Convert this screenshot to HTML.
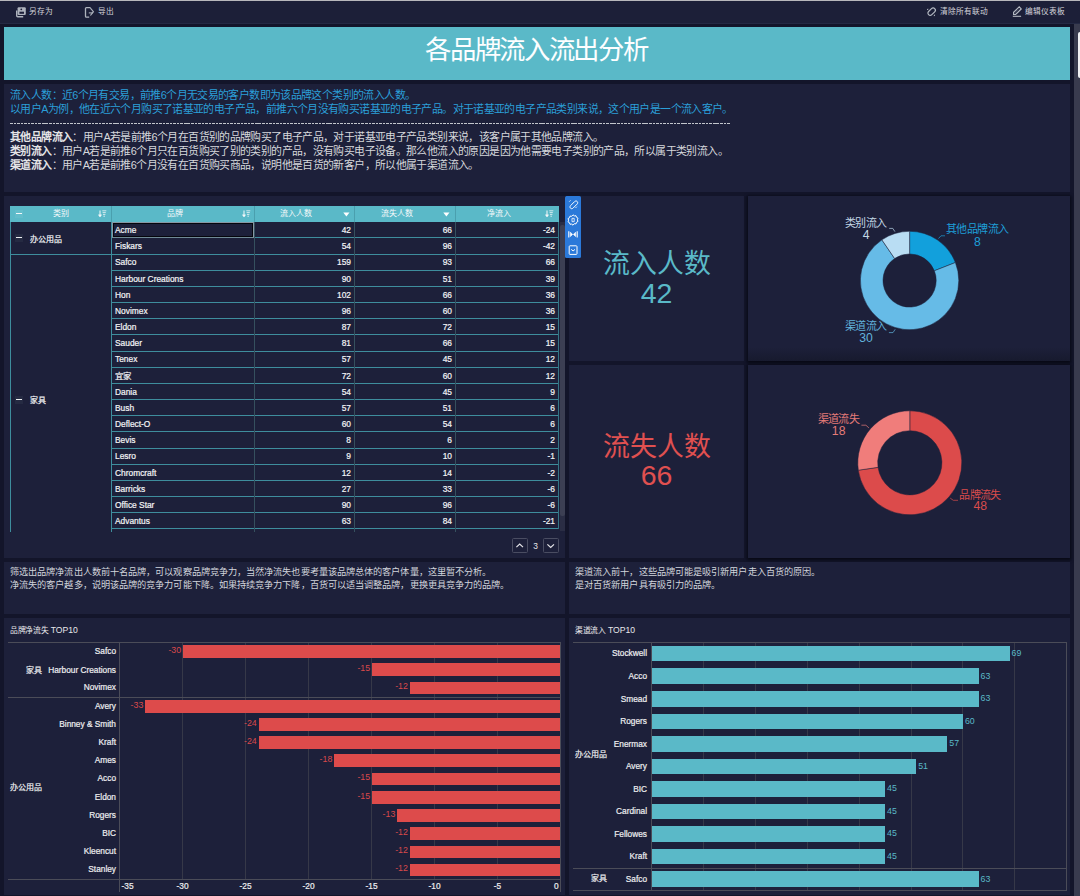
<!DOCTYPE html><html lang="zh-CN"><head><meta charset="utf-8"><style>
*{margin:0;padding:0;box-sizing:border-box}
html,body{width:1080px;height:896px;overflow:hidden}
body{background:#13152a;font-family:"Liberation Sans",sans-serif;color:#e6e6e6;position:relative}
.a{position:absolute}
.t{position:absolute;white-space:nowrap}
.p{position:absolute;background:#1d203a}
.tb{position:absolute;top:7.2px;font-size:7.7px;color:#d4d4da;line-height:10px;white-space:nowrap}
.dl{position:absolute;left:6px;font-size:10.87px;letter-spacing:-0.62px;line-height:14px;white-space:nowrap}
.blue{color:#2b9fd8}
.gray{color:#d6d8dc}
.gray b{font-weight:bold;color:#e4e4e6}
.hd{position:absolute;top:206px;height:15.5px;background:#5ab9c8;color:#f4f8fa;font-size:8px;line-height:15.5px;text-align:center}
.cell{position:absolute;font-size:8.4px;color:#f4f5f7;-webkit-text-stroke:0.2px #f4f5f7;line-height:10px;white-space:nowrap}
.hl{position:absolute;height:1px;background:#3e8d9d}
.vl{position:absolute;width:1px;background:#3e8d9d}
.lbl{position:absolute;font-size:8.3px;color:#eeeef0;-webkit-text-stroke:0.2px currentColor;line-height:10px;white-space:nowrap}
</style></head><body>
<div class="a" style="left:0;top:0;width:1080px;height:1px;background:#b8b8bc"></div>
<div class="a" style="left:0;top:1px;width:1080px;height:22px;background:#1c1f38"></div>
<div class="a" style="left:0;top:23px;width:1080px;height:1px;background:#242943"></div>
<svg class="a" style="left:12px;top:3px" width="20" height="18" viewBox="0 0 20 18">
<rect x="5.6" y="4.2" width="8.2" height="7.8" rx="1.1" fill="#aeb3bd"/>
<rect x="7.4" y="8.7" width="4.6" height="2.1" fill="#1c1f38"/><circle cx="9.3" cy="6.3" r="0.9" fill="#1c1f38"/>
<path d="M4.7 7.5v5.2c0 .7.4 1.1 1.1 1.1h5.4" fill="none" stroke="#aeb3bd" stroke-width="1.4"/></svg>
<div class="tb" style="left:29px">另存为</div>
<svg class="a" style="left:82px;top:3px" width="20" height="18" viewBox="0 0 20 18" fill="none" stroke="#aeb3bd" stroke-width="1.3">
<path d="M8.6 4.6H4.4c-.5 0-.9.4-.9.9v7.8c0 .5.4.9.9.9h2.8"/><path d="M8.4 5.2l3 3.5-3 3.8" stroke-width="1.2"/><path d="M6.8 9.9h4" stroke-width="1.1"/></svg>
<div class="tb" style="left:98px">导出</div>
<svg class="a" style="left:922px;top:3px" width="20" height="18" viewBox="0 0 20 18" fill="none" stroke="#b4b9c2" stroke-width="1.2">
<path d="M6.6 11.7c-.9-.9-.9-2.3 0-3.2l2.9-2.9c.9-.9 2.3-.9 3.2 0s.9 2.3 0 3.2l-2.9 2.9c-.9.9-2.3.9-3.2 0z"/>
<path d="M5 6.5l1.3-.3M12.2 13.1l.4-1.4" stroke-width="1"/></svg>
<div class="tb" style="left:940px">清除所有联动</div>
<svg class="a" style="left:1008px;top:3px" width="20" height="18" viewBox="0 0 20 18" fill="none" stroke="#b4b9c2">
<path d="M5.6 11.5V9.3l5.6-5.4 2 2-5.6 5.6z" stroke-width="1.2"/><path d="M6.6 10.4l4-4" stroke-width="0.6" stroke="#50566a"/>
<path d="M4.8 13.3h8.3" stroke-width="1.1"/></svg>
<div class="tb" style="left:1025px">编辑仪表板</div>
<div class="a" style="left:1074px;top:24px;width:6px;height:872px;background:#393b4e"></div>
<div class="a" style="left:1078px;top:32px;width:2px;height:46px;background:#f0f0f2;border-radius:2px 0 0 2px"></div>
<div class="a" style="left:4px;top:27px;width:1066px;height:53px;background:#5ab9c8"></div>
<div class="t" style="left:4px;top:27px;width:1066px;height:53px;line-height:47px;text-align:center;font-size:26.4px;letter-spacing:-1.35px;text-indent:-1.35px;color:#fdfeff">各品牌流入流出分析</div>
<div class="p" style="left:4px;top:84px;width:1066px;height:108px"></div>
<div class="a" style="left:4px;top:84px">
<div class="dl blue" style="top:4px">流入人数：近6个月有交易，前推6个月无交易的客户数即为该品牌这个类别的流入人数。</div>
<div class="dl blue" style="top:18px">以用户A为例，他在近六个月购买了诺基亚的电子产品，前推六个月没有购买诺基亚的电子产品。对于诺基亚的电子产品类别来说，这个用户是一个流入客户。</div>
<div class="a" style="left:6px;top:38.5px;width:720px;height:1.2px;background:repeating-linear-gradient(90deg,#c2c6cc 0 2.6px,transparent 2.6px 3.55px)"></div>
<div class="dl gray" style="top:46px"><b>其他品牌流入</b>：用户A若是前推6个月在百货别的品牌购买了电子产品，对于诺基亚电子产品类别来说，该客户属于其他品牌流入。</div>
<div class="dl gray" style="top:60px"><b>类别流入</b>：用户A若是前推6个月只在百货购买了别的类别的产品，没有购买电子设备。那么他流入的原因是因为他需要电子类别的产品，所以属于类别流入。</div>
<div class="dl gray" style="top:74px"><b>渠道流入</b>：用户A若是前推6个月没有在百货购买商品，说明他是百货的新客户，所以他属于渠道流入。</div>
</div>
<div class="p" style="left:4px;top:196px;width:561px;height:362px"></div>
<div class="hd" style="left:10px;width:101.5px;padding-right:0px">类别</div>
<div class="hd" style="left:111.5px;width:142.5px;padding-right:16px">品牌</div>
<div class="hd" style="left:254px;width:100.5px;padding-right:16px">流入人数</div>
<div class="hd" style="left:354.5px;width:101.0px;padding-right:16px">流失人数</div>
<div class="hd" style="left:455.5px;width:103.0px;padding-right:16px">净流入</div>
<div class="a" style="left:111.0px;top:206px;width:1px;height:15.5px;background:#4a9fae"></div>
<div class="a" style="left:253.5px;top:206px;width:1px;height:15.5px;background:#4a9fae"></div>
<div class="a" style="left:354.0px;top:206px;width:1px;height:15.5px;background:#4a9fae"></div>
<div class="a" style="left:455.0px;top:206px;width:1px;height:15.5px;background:#4a9fae"></div>
<svg class="a" style="left:97.5px;top:210px" width="9" height="8" viewBox="0 0 9 8" fill="none" stroke="#f4f8fa">
<path d="M2 0.5v6" stroke-width="1"/><path d="M0.3 4.8L2 7l1.7-2.2z" fill="#f4f8fa" stroke-width="0.4"/>
<path d="M4.3 0.8h4M4.6 2.6h3.2M5 4.4h2.4M5.4 6.2h1.6" stroke-width="0.9" opacity="0.85"/></svg>
<svg class="a" style="left:241.5px;top:210px" width="9" height="8" viewBox="0 0 9 8" fill="none" stroke="#f4f8fa">
<path d="M2 0.5v6" stroke-width="1"/><path d="M0.3 4.8L2 7l1.7-2.2z" fill="#f4f8fa" stroke-width="0.4"/>
<path d="M4.3 0.8h4M4.6 2.6h3.2M5 4.4h2.4M5.4 6.2h1.6" stroke-width="0.9" opacity="0.85"/></svg>
<svg class="a" style="left:545px;top:210px" width="9" height="8" viewBox="0 0 9 8" fill="none" stroke="#f4f8fa">
<path d="M2 0.5v6" stroke-width="1"/><path d="M0.3 4.8L2 7l1.7-2.2z" fill="#f4f8fa" stroke-width="0.4"/>
<path d="M4.3 0.8h4M4.6 2.6h3.2M5 4.4h2.4M5.4 6.2h1.6" stroke-width="0.9" opacity="0.85"/></svg>
<svg class="a" style="left:342.5px;top:211.5px" width="7" height="5" viewBox="0 0 7 5"><path d="M0.3 0.5h6.2L3.4 4.6z" fill="#fff"/></svg>
<svg class="a" style="left:442.5px;top:211.5px" width="7" height="5" viewBox="0 0 7 5"><path d="M0.3 0.5h6.2L3.4 4.6z" fill="#fff"/></svg>
<div class="a" style="left:15px;top:210px;width:8px;height:8px;background:rgba(255,255,255,0.06)"></div>
<div class="a" style="left:16px;top:213.2px;width:6px;height:1.2px;background:#f4f8fa"></div>
<div class="cell" style="left:115px;top:225.10px">Acme</div>
<div class="cell" style="left:291.0px;width:60px;text-align:right;top:225.10px">42</div>
<div class="cell" style="left:392.0px;width:60px;text-align:right;top:225.10px">66</div>
<div class="cell" style="left:495.0px;width:60px;text-align:right;top:225.10px">-24</div>
<div class="hl" style="left:111.5px;top:237.37px;width:447.0px"></div>
<div class="cell" style="left:115px;top:241.27px">Fiskars</div>
<div class="cell" style="left:291.0px;width:60px;text-align:right;top:241.27px">54</div>
<div class="cell" style="left:392.0px;width:60px;text-align:right;top:241.27px">96</div>
<div class="cell" style="left:495.0px;width:60px;text-align:right;top:241.27px">-42</div>
<div class="hl" style="left:10px;top:253.54px;width:548.5px"></div>
<div class="cell" style="left:115px;top:257.44px">Safco</div>
<div class="cell" style="left:291.0px;width:60px;text-align:right;top:257.44px">159</div>
<div class="cell" style="left:392.0px;width:60px;text-align:right;top:257.44px">93</div>
<div class="cell" style="left:495.0px;width:60px;text-align:right;top:257.44px">66</div>
<div class="hl" style="left:111.5px;top:269.71px;width:447.0px"></div>
<div class="cell" style="left:115px;top:273.61px">Harbour Creations</div>
<div class="cell" style="left:291.0px;width:60px;text-align:right;top:273.61px">90</div>
<div class="cell" style="left:392.0px;width:60px;text-align:right;top:273.61px">51</div>
<div class="cell" style="left:495.0px;width:60px;text-align:right;top:273.61px">39</div>
<div class="hl" style="left:111.5px;top:285.88px;width:447.0px"></div>
<div class="cell" style="left:115px;top:289.78px">Hon</div>
<div class="cell" style="left:291.0px;width:60px;text-align:right;top:289.78px">102</div>
<div class="cell" style="left:392.0px;width:60px;text-align:right;top:289.78px">66</div>
<div class="cell" style="left:495.0px;width:60px;text-align:right;top:289.78px">36</div>
<div class="hl" style="left:111.5px;top:302.05px;width:447.0px"></div>
<div class="cell" style="left:115px;top:305.95px">Novimex</div>
<div class="cell" style="left:291.0px;width:60px;text-align:right;top:305.95px">96</div>
<div class="cell" style="left:392.0px;width:60px;text-align:right;top:305.95px">60</div>
<div class="cell" style="left:495.0px;width:60px;text-align:right;top:305.95px">36</div>
<div class="hl" style="left:111.5px;top:318.22px;width:447.0px"></div>
<div class="cell" style="left:115px;top:322.12px">Eldon</div>
<div class="cell" style="left:291.0px;width:60px;text-align:right;top:322.12px">87</div>
<div class="cell" style="left:392.0px;width:60px;text-align:right;top:322.12px">72</div>
<div class="cell" style="left:495.0px;width:60px;text-align:right;top:322.12px">15</div>
<div class="hl" style="left:111.5px;top:334.39px;width:447.0px"></div>
<div class="cell" style="left:115px;top:338.29px">Sauder</div>
<div class="cell" style="left:291.0px;width:60px;text-align:right;top:338.29px">81</div>
<div class="cell" style="left:392.0px;width:60px;text-align:right;top:338.29px">66</div>
<div class="cell" style="left:495.0px;width:60px;text-align:right;top:338.29px">15</div>
<div class="hl" style="left:111.5px;top:350.56px;width:447.0px"></div>
<div class="cell" style="left:115px;top:354.46px">Tenex</div>
<div class="cell" style="left:291.0px;width:60px;text-align:right;top:354.46px">57</div>
<div class="cell" style="left:392.0px;width:60px;text-align:right;top:354.46px">45</div>
<div class="cell" style="left:495.0px;width:60px;text-align:right;top:354.46px">12</div>
<div class="hl" style="left:111.5px;top:366.73px;width:447.0px"></div>
<div class="cell" style="left:115px;top:370.63px">宜家</div>
<div class="cell" style="left:291.0px;width:60px;text-align:right;top:370.63px">72</div>
<div class="cell" style="left:392.0px;width:60px;text-align:right;top:370.63px">60</div>
<div class="cell" style="left:495.0px;width:60px;text-align:right;top:370.63px">12</div>
<div class="hl" style="left:111.5px;top:382.90px;width:447.0px"></div>
<div class="cell" style="left:115px;top:386.80px">Dania</div>
<div class="cell" style="left:291.0px;width:60px;text-align:right;top:386.80px">54</div>
<div class="cell" style="left:392.0px;width:60px;text-align:right;top:386.80px">45</div>
<div class="cell" style="left:495.0px;width:60px;text-align:right;top:386.80px">9</div>
<div class="hl" style="left:111.5px;top:399.07px;width:447.0px"></div>
<div class="cell" style="left:115px;top:402.97px">Bush</div>
<div class="cell" style="left:291.0px;width:60px;text-align:right;top:402.97px">57</div>
<div class="cell" style="left:392.0px;width:60px;text-align:right;top:402.97px">51</div>
<div class="cell" style="left:495.0px;width:60px;text-align:right;top:402.97px">6</div>
<div class="hl" style="left:111.5px;top:415.24px;width:447.0px"></div>
<div class="cell" style="left:115px;top:419.14px">Deflect-O</div>
<div class="cell" style="left:291.0px;width:60px;text-align:right;top:419.14px">60</div>
<div class="cell" style="left:392.0px;width:60px;text-align:right;top:419.14px">54</div>
<div class="cell" style="left:495.0px;width:60px;text-align:right;top:419.14px">6</div>
<div class="hl" style="left:111.5px;top:431.41px;width:447.0px"></div>
<div class="cell" style="left:115px;top:435.31px">Bevis</div>
<div class="cell" style="left:291.0px;width:60px;text-align:right;top:435.31px">8</div>
<div class="cell" style="left:392.0px;width:60px;text-align:right;top:435.31px">6</div>
<div class="cell" style="left:495.0px;width:60px;text-align:right;top:435.31px">2</div>
<div class="hl" style="left:111.5px;top:447.58px;width:447.0px"></div>
<div class="cell" style="left:115px;top:451.48px">Lesro</div>
<div class="cell" style="left:291.0px;width:60px;text-align:right;top:451.48px">9</div>
<div class="cell" style="left:392.0px;width:60px;text-align:right;top:451.48px">10</div>
<div class="cell" style="left:495.0px;width:60px;text-align:right;top:451.48px">-1</div>
<div class="hl" style="left:111.5px;top:463.75px;width:447.0px"></div>
<div class="cell" style="left:115px;top:467.65px">Chromcraft</div>
<div class="cell" style="left:291.0px;width:60px;text-align:right;top:467.65px">12</div>
<div class="cell" style="left:392.0px;width:60px;text-align:right;top:467.65px">14</div>
<div class="cell" style="left:495.0px;width:60px;text-align:right;top:467.65px">-2</div>
<div class="hl" style="left:111.5px;top:479.92px;width:447.0px"></div>
<div class="cell" style="left:115px;top:483.82px">Barricks</div>
<div class="cell" style="left:291.0px;width:60px;text-align:right;top:483.82px">27</div>
<div class="cell" style="left:392.0px;width:60px;text-align:right;top:483.82px">33</div>
<div class="cell" style="left:495.0px;width:60px;text-align:right;top:483.82px">-6</div>
<div class="hl" style="left:111.5px;top:496.09px;width:447.0px"></div>
<div class="cell" style="left:115px;top:499.99px">Office Star</div>
<div class="cell" style="left:291.0px;width:60px;text-align:right;top:499.99px">90</div>
<div class="cell" style="left:392.0px;width:60px;text-align:right;top:499.99px">96</div>
<div class="cell" style="left:495.0px;width:60px;text-align:right;top:499.99px">-6</div>
<div class="hl" style="left:111.5px;top:512.26px;width:447.0px"></div>
<div class="cell" style="left:115px;top:516.16px">Advantus</div>
<div class="cell" style="left:291.0px;width:60px;text-align:right;top:516.16px">63</div>
<div class="cell" style="left:392.0px;width:60px;text-align:right;top:516.16px">84</div>
<div class="cell" style="left:495.0px;width:60px;text-align:right;top:516.16px">-21</div>
<div class="hl" style="left:111.5px;top:528.43px;width:447.0px"></div>
<div class="vl" style="left:10px;top:221.5px;height:310.0px"></div>
<div class="vl" style="left:111.0px;top:221.5px;height:310.0px;"></div>
<div class="vl" style="left:253.5px;top:221.5px;height:310.0px;background:#35505e"></div>
<div class="vl" style="left:354.0px;top:221.5px;height:310.0px;background:#35505e"></div>
<div class="vl" style="left:455.0px;top:221.5px;height:310.0px;background:#35505e"></div>
<div class="vl" style="left:558.0px;top:221.5px;height:307.4px;background:#347585"></div>
<div class="a" style="left:112px;top:222px;width:142px;height:16px;border:1px solid #8797a4;border-bottom-color:#6f8a96"></div>
<div class="a" style="left:113px;top:223px;width:140px;height:14px;border:1px solid #05060c;border-top-width:0.8px;border-left-width:0.6px"></div>
<div class="a" style="left:15px;top:234px;width:8px;height:8px;background:#252a42"></div>
<div class="a" style="left:16px;top:237.2px;width:6px;height:1.2px;background:#eef0f2"></div>
<div class="cell" style="left:30px;top:234.5px;font-size:8px">办公用品</div>
<div class="a" style="left:15px;top:395.5px;width:8px;height:8px;background:#252a42"></div>
<div class="a" style="left:16px;top:398.8px;width:6px;height:1.2px;background:#eef0f2"></div>
<div class="cell" style="left:30px;top:395.5px;font-size:8px">家具</div>
<div class="a" style="left:560px;top:222px;width:4.5px;height:309px;background:#2a2d44"></div>
<div class="a" style="left:560px;top:224.5px;width:4.5px;height:291.5px;background:#3c3f53;border-radius:2px"></div>
<div class="a" style="left:512.3px;top:538.1px;width:15.4px;height:15.4px;border:1px solid #4a4d62;border-radius:1.5px"></div>
<svg class="a" style="left:512.3px;top:538.1px" width="15.4" height="15.4" viewBox="0 0 15.4 15.4" fill="none" stroke="#e6e6ea" stroke-width="1.2"><path d="M4.4 9.1l3.3-3.1 3.3 3.1"/></svg>
<div class="t" style="left:531px;top:541px;width:9px;text-align:center;font-size:8.4px;line-height:10px;color:#e6e6ea">3</div>
<div class="a" style="left:543.4px;top:538.1px;width:15.4px;height:15.4px;border:1px solid #4a4d62;border-radius:1.5px"></div>
<svg class="a" style="left:543.4px;top:538.1px" width="15.4" height="15.4" viewBox="0 0 15.4 15.4" fill="none" stroke="#e6e6ea" stroke-width="1.2"><path d="M4.4 6.4l3.3 3.1 3.3-3.1"/></svg>
<div class="p" style="left:569px;top:196px;width:175px;height:165px"></div>
<div class="p" style="left:748px;top:196px;width:322px;height:165px;box-shadow:0 1px 3px 1px rgba(4,5,14,0.75);background:linear-gradient(180deg,#1d203a 0,#1d203a 151px,#171a2e 165px)"></div>
<div class="p" style="left:569px;top:365px;width:175px;height:193px"></div>
<div class="p" style="left:748px;top:365px;width:322px;height:193px;box-shadow:0 1px 3px 1px rgba(4,5,14,0.75)"></div>
<div class="t" style="left:569px;top:246.5px;width:175px;text-align:center;font-size:26.9px;line-height:34px;color:#5ab9c8">流入人数</div>
<div class="t" style="left:569px;top:276px;width:175px;text-align:center;font-size:28.5px;line-height:34px;color:#5ab9c8">42</div>
<div class="t" style="left:569px;top:429.5px;width:175px;text-align:center;font-size:26.9px;line-height:34px;color:#e05050">流失人数</div>
<div class="t" style="left:569px;top:458px;width:175px;text-align:center;font-size:28.5px;line-height:34px;color:#e05050">66</div>
<div class="a" style="left:565px;top:196.3px;width:16px;height:61.5px;background:#2b79d9;border-radius:1.5px"></div>
<svg class="a" style="left:565px;top:196.3px" width="16" height="62" viewBox="0 0 16 62" fill="none" stroke="#fff" stroke-width="1">
<path d="M5.6 9.6l4-4c.8-.8 2-.8 2.6-.1.7.7.7 1.9-.1 2.6l-4 4c-.8.8-2 .8-2.6.1-.7-.7-.7-1.9.1-2.6z"/><path d="M4.3 5.6l1.2-1.2M10.6 11.9l1.2-1.2" stroke-width="0.9"/>
<path d="M8 18.8l1.3 1.1 1.7-.2.5 1.6 1.5.9-.6 1.6.6 1.6-1.5.9-.5 1.6-1.7-.2L8 29.2l-1.3-1.1-1.7.2-.5-1.6-1.5-.9.6-1.6-.6-1.6 1.5-.9.5-1.6 1.7.2z"/><path d="M7 22.3h2.2v3.4H7z" stroke-width="0.8"/>
<path d="M3.8 35.2v6.4M12.2 35.2v6.4" stroke-width="1.1"/><path d="M5.4 36.2l2.2 2.2-2.2 2.2zM10.6 36.2L8.4 38.4l2.2 2.2z" fill="#fff" stroke-width="0.6"/>
<rect x="4.2" y="49.8" width="7.8" height="8.6" rx="0.8"/><path d="M6.2 53.4l1.9 1.5 1.9-1.5"/>
</svg>
<svg class="a" style="left:0;top:0" width="1080" height="896" viewBox="0 0 1080 896">
<path d="M909.60 231.30A49.2 49.2 0 0 1 955.40 262.53L934.36 270.78A26.6 26.6 0 0 0 909.60 253.90Z" fill="#12a0dc" stroke="#1d203a" stroke-width="0.5"/>
<path d="M955.40 262.53A49.2 49.2 0 1 1 881.88 239.85L894.62 258.52A26.6 26.6 0 1 0 934.36 270.78Z" fill="#66bbe7" stroke="#1d203a" stroke-width="0.5"/>
<path d="M881.88 239.85A49.2 49.2 0 0 1 909.60 231.30L909.60 253.90A26.6 26.6 0 0 0 894.62 258.52Z" fill="#b9ddf3" stroke="#1d203a" stroke-width="0.5"/>
<path d="M938.5 238.5L941 235.8H945" fill="none" stroke="#1f9fd9" stroke-width="0.7"/>
<path d="M889.2 228.4H892.8L894.9 231.6" fill="none" stroke="#b9d4e6" stroke-width="0.7"/>
<path d="M888.9 332.6H893L895.2 329.3" fill="none" stroke="#62b3dc" stroke-width="0.7"/>
<path d="M909.80 410.80A52.0 52.0 0 1 1 858.33 470.20L878.03 467.37A32.1 32.1 0 1 0 909.80 430.70Z" fill="#dc4b4b" stroke="#1d203a" stroke-width="0.5"/>
<path d="M858.33 470.20A52.0 52.0 0 0 1 909.80 410.80L909.80 430.70A32.1 32.1 0 0 0 878.03 467.37Z" fill="#f07d7b" stroke="#1d203a" stroke-width="0.5"/>
<path d="M861.4 425.2H865.9L868.9 427.9" fill="none" stroke="#e57b78" stroke-width="0.7"/>
<path d="M950.2 498.1L953.3 500.3H958" fill="none" stroke="#d94c4c" stroke-width="0.7"/>
</svg>
<div class="t" style="left:927.5px;top:223.30px;width:100px;text-align:center;font-size:11px;letter-spacing:-0.6px;text-indent:-0.6px;line-height:12px;color:#1e9fd8">其他品牌流入</div>
<div class="t" style="left:927.5px;top:235.90px;width:100px;text-align:center;font-size:12.2px;line-height:12px;color:#1e9fd8">8</div>
<div class="t" style="left:816.1500000000001px;top:216.90px;width:100px;text-align:center;font-size:11px;letter-spacing:-0.6px;text-indent:-0.6px;line-height:12px;color:#c4d8e6">类别流入</div>
<div class="t" style="left:816.1500000000001px;top:229.00px;width:100px;text-align:center;font-size:12.2px;line-height:12px;color:#c4d8e6">4</div>
<div class="t" style="left:816.0px;top:319.90px;width:100px;text-align:center;font-size:11px;letter-spacing:-0.6px;text-indent:-0.6px;line-height:12px;color:#62b3dc">渠道流入</div>
<div class="t" style="left:816.0px;top:332.10px;width:100px;text-align:center;font-size:12.2px;line-height:12px;color:#62b3dc">30</div>
<div class="t" style="left:788.6500000000001px;top:412.50px;width:100px;text-align:center;font-size:11px;letter-spacing:-0.6px;text-indent:-0.6px;line-height:12px;color:#e57b78">渠道流失</div>
<div class="t" style="left:788.6500000000001px;top:425.00px;width:100px;text-align:center;font-size:12.2px;line-height:12px;color:#e57b78">18</div>
<div class="t" style="left:930.25px;top:488.50px;width:100px;text-align:center;font-size:11px;letter-spacing:-0.6px;text-indent:-0.6px;line-height:12px;color:#d94c4c">品牌流失</div>
<div class="t" style="left:930.25px;top:500.10px;width:100px;text-align:center;font-size:12.2px;line-height:12px;color:#d94c4c">48</div>
<div class="p" style="left:4px;top:562px;width:561px;height:52px"></div>
<div class="p" style="left:569px;top:562px;width:501px;height:52px"></div>
<div class="t" style="left:10px;top:566.2px;font-size:9.2px;letter-spacing:0.08px;line-height:13px;color:#d2d5dc">筛选出品牌净流出人数前十名品牌，可以观察品牌竞争力，当然净流失也要考量该品牌总体的客户体量，这里暂不分析。<br>净流失的客户越多，说明该品牌的竞争力可能下降。如果持续竞争力下降，百货可以适当调整品牌，更换更具竞争力的品牌。</div>
<div class="t" style="left:575px;top:566.2px;font-size:9.2px;letter-spacing:0.08px;line-height:13px;color:#d2d5dc">渠道流入前十，这些品牌可能是吸引新用户走入百货的原因。<br>是对百货新用户具有吸引力的品牌。</div>
<div class="p" style="left:4px;top:618px;width:561px;height:277px"></div>
<div class="p" style="left:569px;top:618px;width:501px;height:277px"></div>
<div class="t" style="left:10px;top:624.5px;font-size:7.8px;line-height:10px;color:#e8e8ea"><span style="letter-spacing:-0.3px">品牌净流失</span> <span style="font-size:8.6px">TOP10</span></div>
<div class="t" style="left:575px;top:624.5px;font-size:7.8px;line-height:10px;color:#e8e8ea"><span style="letter-spacing:-0.3px">渠道流入</span> <span style="font-size:8.6px">TOP10</span></div>
<svg class="a" style="left:0;top:0" width="1080" height="896" viewBox="0 0 1080 896" shape-rendering="crispEdges"><line x1="182.5" y1="642.4" x2="182.5" y2="879.2" stroke="#363848" stroke-width="1"/><line x1="245.5" y1="642.4" x2="245.5" y2="879.2" stroke="#363848" stroke-width="1"/><line x1="308.5" y1="642.4" x2="308.5" y2="879.2" stroke="#363848" stroke-width="1"/><line x1="371.5" y1="642.4" x2="371.5" y2="879.2" stroke="#363848" stroke-width="1"/><line x1="434.5" y1="642.4" x2="434.5" y2="879.2" stroke="#363848" stroke-width="1"/><line x1="497.5" y1="642.4" x2="497.5" y2="879.2" stroke="#363848" stroke-width="1"/><rect x="183.2" y="645.16" width="377.3" height="12.7" fill="#dd4b4b"/><rect x="372.2" y="663.37" width="188.3" height="12.7" fill="#dd4b4b"/><rect x="410.0" y="681.59" width="150.5" height="12.7" fill="#dd4b4b"/><rect x="145.4" y="699.80" width="415.1" height="12.7" fill="#dd4b4b"/><rect x="258.8" y="718.02" width="301.7" height="12.7" fill="#dd4b4b"/><rect x="258.8" y="736.23" width="301.7" height="12.7" fill="#dd4b4b"/><rect x="334.4" y="754.45" width="226.1" height="12.7" fill="#dd4b4b"/><rect x="372.2" y="772.67" width="188.3" height="12.7" fill="#dd4b4b"/><rect x="372.2" y="790.88" width="188.3" height="12.7" fill="#dd4b4b"/><rect x="397.4" y="809.10" width="163.1" height="12.7" fill="#dd4b4b"/><rect x="410.0" y="827.31" width="150.5" height="12.7" fill="#dd4b4b"/><rect x="410.0" y="845.53" width="150.5" height="12.7" fill="#dd4b4b"/><rect x="410.0" y="863.74" width="150.5" height="12.7" fill="#dd4b4b"/><line x1="8.3" y1="642.4" x2="560.5" y2="642.4" stroke="#4b4c58"/><line x1="8.3" y1="697.0" x2="560.5" y2="697.0" stroke="#4b4c58"/><line x1="8.3" y1="879.2" x2="560.5" y2="879.2" stroke="#4b4c58"/><line x1="119.5" y1="642.4" x2="119.5" y2="891.5" stroke="#4b4c58"/><line x1="560.5" y1="642.4" x2="560.5" y2="891.5" stroke="#4b4c58"/><line x1="703.4" y1="642.4" x2="703.4" y2="890.5" stroke="#363848"/><line x1="755.3" y1="642.4" x2="755.3" y2="890.5" stroke="#363848"/><line x1="807.2" y1="642.4" x2="807.2" y2="890.5" stroke="#363848"/><line x1="859.1" y1="642.4" x2="859.1" y2="890.5" stroke="#363848"/><line x1="911.0" y1="642.4" x2="911.0" y2="890.5" stroke="#363848"/><line x1="962.9" y1="642.4" x2="962.9" y2="890.5" stroke="#363848"/><line x1="1014.8" y1="642.4" x2="1014.8" y2="890.5" stroke="#363848"/><rect x="652" y="645.88" width="357.6" height="15.6" fill="#5ab9c8"/><rect x="652" y="668.43" width="326.5" height="15.6" fill="#5ab9c8"/><rect x="652" y="690.99" width="326.5" height="15.6" fill="#5ab9c8"/><rect x="652" y="713.54" width="310.9" height="15.6" fill="#5ab9c8"/><rect x="652" y="736.10" width="295.3" height="15.6" fill="#5ab9c8"/><rect x="652" y="758.65" width="264.2" height="15.6" fill="#5ab9c8"/><rect x="652" y="781.20" width="233.0" height="15.6" fill="#5ab9c8"/><rect x="652" y="803.76" width="233.0" height="15.6" fill="#5ab9c8"/><rect x="652" y="826.31" width="233.0" height="15.6" fill="#5ab9c8"/><rect x="652" y="848.87" width="233.0" height="15.6" fill="#5ab9c8"/><rect x="652" y="871.42" width="326.5" height="15.6" fill="#5ab9c8"/><line x1="573" y1="642.4" x2="1066.5" y2="642.4" stroke="#4b4c58"/><line x1="573" y1="868.9" x2="1066.5" y2="868.9" stroke="#4b4c58"/><line x1="573" y1="890.5" x2="1066.5" y2="890.5" stroke="#4b4c58"/><line x1="651.5" y1="642.4" x2="651.5" y2="890.5" stroke="#4b4c58"/><line x1="1066.5" y1="642.4" x2="1066.5" y2="890.5" stroke="#4b4c58"/></svg>
<div class="lbl" style="left:0;width:116px;text-align:right;top:645.91px">Safco</div>
<div class="lbl" style="left:141.1px;width:40px;text-align:right;top:644.91px;color:#d9494b;-webkit-text-stroke:0;font-size:8.8px">-30</div>
<div class="lbl" style="left:0;width:116px;text-align:right;top:664.92px">Harbour Creations</div>
<div class="lbl" style="left:330.1px;width:40px;text-align:right;top:663.12px;color:#d9494b;-webkit-text-stroke:0;font-size:8.8px">-15</div>
<div class="lbl" style="left:0;width:116px;text-align:right;top:682.34px">Novimex</div>
<div class="lbl" style="left:367.9px;width:40px;text-align:right;top:681.34px;color:#d9494b;-webkit-text-stroke:0;font-size:8.8px">-12</div>
<div class="lbl" style="left:0;width:116px;text-align:right;top:700.55px">Avery</div>
<div class="lbl" style="left:103.3px;width:40px;text-align:right;top:699.55px;color:#d9494b;-webkit-text-stroke:0;font-size:8.8px">-33</div>
<div class="lbl" style="left:0;width:116px;text-align:right;top:718.77px">Binney &amp; Smith</div>
<div class="lbl" style="left:216.7px;width:40px;text-align:right;top:717.77px;color:#d9494b;-webkit-text-stroke:0;font-size:8.8px">-24</div>
<div class="lbl" style="left:0;width:116px;text-align:right;top:736.98px">Kraft</div>
<div class="lbl" style="left:216.7px;width:40px;text-align:right;top:735.98px;color:#d9494b;-webkit-text-stroke:0;font-size:8.8px">-24</div>
<div class="lbl" style="left:0;width:116px;text-align:right;top:755.20px">Ames</div>
<div class="lbl" style="left:292.3px;width:40px;text-align:right;top:754.20px;color:#d9494b;-webkit-text-stroke:0;font-size:8.8px">-18</div>
<div class="lbl" style="left:0;width:116px;text-align:right;top:773.42px">Acco</div>
<div class="lbl" style="left:330.1px;width:40px;text-align:right;top:772.42px;color:#d9494b;-webkit-text-stroke:0;font-size:8.8px">-15</div>
<div class="lbl" style="left:0;width:116px;text-align:right;top:791.63px">Eldon</div>
<div class="lbl" style="left:330.1px;width:40px;text-align:right;top:790.63px;color:#d9494b;-webkit-text-stroke:0;font-size:8.8px">-15</div>
<div class="lbl" style="left:0;width:116px;text-align:right;top:809.85px">Rogers</div>
<div class="lbl" style="left:355.3px;width:40px;text-align:right;top:808.85px;color:#d9494b;-webkit-text-stroke:0;font-size:8.8px">-13</div>
<div class="lbl" style="left:0;width:116px;text-align:right;top:828.06px">BIC</div>
<div class="lbl" style="left:367.9px;width:40px;text-align:right;top:827.06px;color:#d9494b;-webkit-text-stroke:0;font-size:8.8px">-12</div>
<div class="lbl" style="left:0;width:116px;text-align:right;top:846.28px">Kleencut</div>
<div class="lbl" style="left:367.9px;width:40px;text-align:right;top:845.28px;color:#d9494b;-webkit-text-stroke:0;font-size:8.8px">-12</div>
<div class="lbl" style="left:0;width:116px;text-align:right;top:864.49px">Stanley</div>
<div class="lbl" style="left:367.9px;width:40px;text-align:right;top:863.49px;color:#d9494b;-webkit-text-stroke:0;font-size:8.8px">-12</div>
<div class="lbl" style="left:25.5px;top:665.5px;font-size:8px">家具</div>
<div class="lbl" style="left:10.3px;top:782.5px;font-size:8px">办公用品</div>
<div class="lbl" style="left:121.5px;top:881px">-35</div>
<div class="lbl" style="left:162.5px;width:40px;text-align:center;top:881px">-30</div>
<div class="lbl" style="left:225.5px;width:40px;text-align:center;top:881px">-25</div>
<div class="lbl" style="left:288.5px;width:40px;text-align:center;top:881px">-20</div>
<div class="lbl" style="left:351.5px;width:40px;text-align:center;top:881px">-15</div>
<div class="lbl" style="left:414.5px;width:40px;text-align:center;top:881px">-10</div>
<div class="lbl" style="left:477.5px;width:40px;text-align:center;top:881px">-5</div>
<div class="lbl" style="left:518.5px;width:40px;text-align:right;top:881px">0</div>
<div class="lbl" style="left:560px;width:87px;text-align:right;top:648.48px">Stockwell</div>
<div class="lbl" style="left:1011.6px;top:647.98px;color:#5ab9c8;-webkit-text-stroke:0;font-size:8.8px">69</div>
<div class="lbl" style="left:560px;width:87px;text-align:right;top:671.03px">Acco</div>
<div class="lbl" style="left:980.5px;top:670.53px;color:#5ab9c8;-webkit-text-stroke:0;font-size:8.8px">63</div>
<div class="lbl" style="left:560px;width:87px;text-align:right;top:693.59px">Smead</div>
<div class="lbl" style="left:980.5px;top:693.09px;color:#5ab9c8;-webkit-text-stroke:0;font-size:8.8px">63</div>
<div class="lbl" style="left:560px;width:87px;text-align:right;top:716.14px">Rogers</div>
<div class="lbl" style="left:964.9px;top:715.64px;color:#5ab9c8;-webkit-text-stroke:0;font-size:8.8px">60</div>
<div class="lbl" style="left:560px;width:87px;text-align:right;top:738.70px">Enermax</div>
<div class="lbl" style="left:949.3px;top:738.20px;color:#5ab9c8;-webkit-text-stroke:0;font-size:8.8px">57</div>
<div class="lbl" style="left:560px;width:87px;text-align:right;top:761.25px">Avery</div>
<div class="lbl" style="left:918.2px;top:760.75px;color:#5ab9c8;-webkit-text-stroke:0;font-size:8.8px">51</div>
<div class="lbl" style="left:560px;width:87px;text-align:right;top:783.80px">BIC</div>
<div class="lbl" style="left:887.0px;top:783.30px;color:#5ab9c8;-webkit-text-stroke:0;font-size:8.8px">45</div>
<div class="lbl" style="left:560px;width:87px;text-align:right;top:806.36px">Cardinal</div>
<div class="lbl" style="left:887.0px;top:805.86px;color:#5ab9c8;-webkit-text-stroke:0;font-size:8.8px">45</div>
<div class="lbl" style="left:560px;width:87px;text-align:right;top:828.91px">Fellowes</div>
<div class="lbl" style="left:887.0px;top:828.41px;color:#5ab9c8;-webkit-text-stroke:0;font-size:8.8px">45</div>
<div class="lbl" style="left:560px;width:87px;text-align:right;top:851.47px">Kraft</div>
<div class="lbl" style="left:887.0px;top:850.97px;color:#5ab9c8;-webkit-text-stroke:0;font-size:8.8px">45</div>
<div class="lbl" style="left:560px;width:87px;text-align:right;top:874.02px">Safco</div>
<div class="lbl" style="left:980.5px;top:873.52px;color:#5ab9c8;-webkit-text-stroke:0;font-size:8.8px">63</div>
<div class="lbl" style="left:574.8px;top:749.5px;font-size:8px">办公用品</div>
<div class="lbl" style="left:590.6px;top:874px;font-size:8px">家具</div>
</body></html>
